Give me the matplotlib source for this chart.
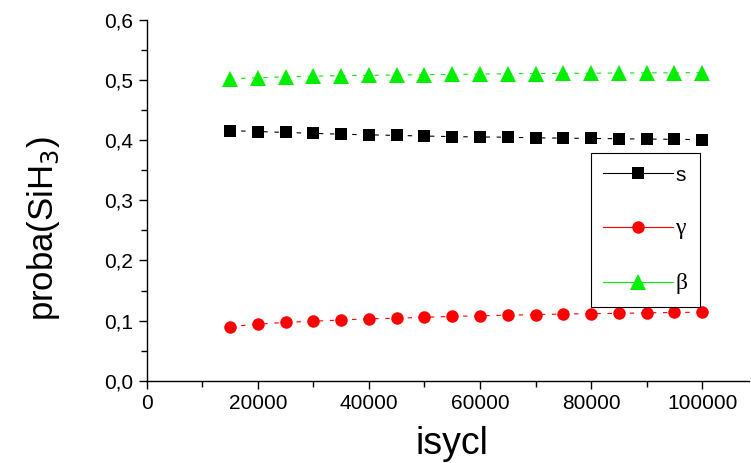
import matplotlib.pyplot as plt
from matplotlib.ticker import MultipleLocator, FuncFormatter

isycl = [15000, 20000, 25000, 30000, 35000, 40000, 45000, 50000, 55000,
         60000, 65000, 70000, 75000, 80000, 85000, 90000, 95000, 100000]
s_vals = [0.416, 0.4145, 0.413, 0.4115, 0.410, 0.409, 0.408, 0.407, 0.406,
          0.4055, 0.405, 0.404, 0.4035, 0.403, 0.4025, 0.402, 0.4015, 0.401]
gamma_vals = [0.090, 0.094, 0.097, 0.099, 0.101, 0.103, 0.104, 0.1055, 0.107,
              0.108, 0.109, 0.110, 0.111, 0.1115, 0.112, 0.113, 0.1135, 0.114]
beta_vals = [0.502, 0.504, 0.5055, 0.5065, 0.5075, 0.508, 0.5085, 0.509, 0.5095,
             0.510, 0.5105, 0.511, 0.5112, 0.5115, 0.5118, 0.512, 0.5122, 0.5125]

plt.rcParams['font.family'] = ['Liberation Sans', 'DejaVu Sans']

fig = plt.figure(figsize=(7.51, 4.63), dpi=100)
ax = fig.add_axes([0.1953, 0.1777, 0.8027, 0.7791])

series = [
    (s_vals, 's', 'black', 's', 8),
    (gamma_vals, 'o', 'red', 'γ', 9),
    (beta_vals, '^', '#00ee00', 'β', 11),
]
for vals, mk, col, lab, ms in series:
    ax.plot(isycl, vals, linestyle=(0, (4, 6)), linewidth=0.8, color=col,
            marker=mk, markersize=ms, markeredgewidth=0)

# legend with solid lines like the original
handles = [plt.Line2D([], [], color=col, linewidth=0.8, marker=mk,
                      markersize=ms, markeredgewidth=0)
           for vals, mk, col, lab, ms in series]
labels = [lab for vals, mk, col, lab, ms in series]
leg = ax.legend(handles, labels, loc='upper left', bbox_to_anchor=(0.7365, 0.631),
                fontsize=15, frameon=True, fancybox=False, edgecolor='black',
                handlelength=3.37, handletextpad=0.1, labelspacing=1.62,
                borderpad=0.6, borderaxespad=0, framealpha=1)
leg.get_frame().set_linewidth(0.8)
for t in leg.get_texts()[1:]:
    t.set_family(['Liberation Serif', 'DejaVu Serif'])
    t.set_fontsize(17)

ax.set_xlim(0, 108500)
ax.set_ylim(0, 0.6)
ax.spines['top'].set_visible(False)
ax.spines['right'].set_visible(False)
for sp in ('left', 'bottom'):
    ax.spines[sp].set_linewidth(1.0)

ax.xaxis.set_major_locator(MultipleLocator(20000))
ax.xaxis.set_minor_locator(MultipleLocator(10000))
ax.yaxis.set_major_locator(MultipleLocator(0.1))
ax.yaxis.set_minor_locator(MultipleLocator(0.05))
ax.yaxis.set_major_formatter(FuncFormatter(lambda v, p: f"{v:.1f}".replace('.', ',')))
ax.tick_params(which='major', direction='out', length=6, width=1, labelsize=15)
ax.tick_params(which='minor', direction='out', length=4, width=1)

ax.set_xlabel('isycl', fontsize=27)
ax.xaxis.set_label_coords(0.506, -0.126)
ax.set_ylabel(r'proba(SiH$_3$)', fontsize=25)
ax.yaxis.set_label_coords(-0.14, 0.423)

fig.savefig('out.png', dpi=100)
